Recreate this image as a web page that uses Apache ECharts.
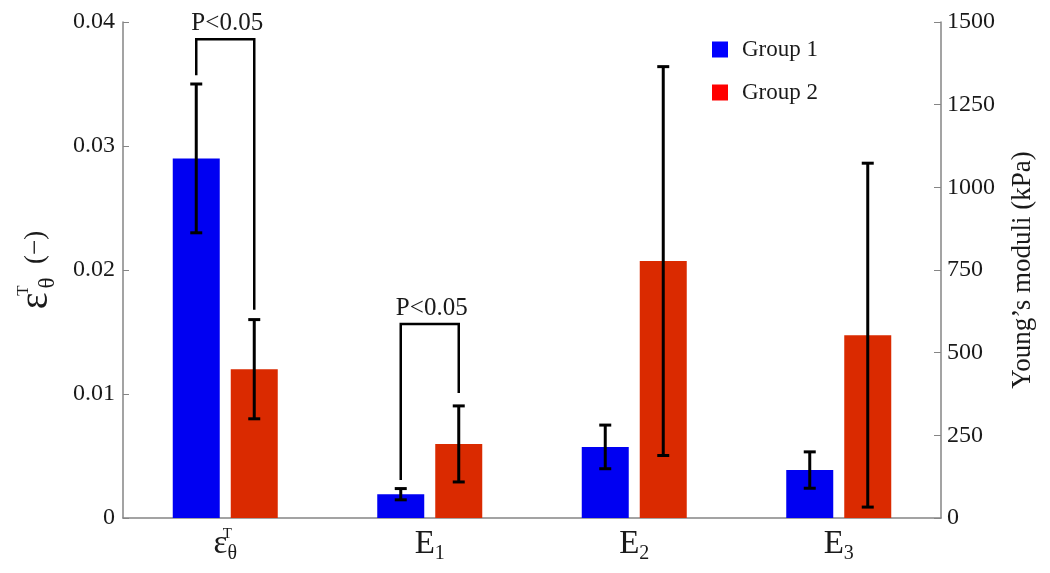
<!DOCTYPE html>
<html><head><meta charset="utf-8">
<script src="https://cdn.jsdelivr.net/npm/echarts@6/dist/echarts.min.js"></script>
<style>html,body{margin:0;padding:0;background:#fff}#c{width:1050px;height:573px}</style>
</head><body><div id="c"></div>
<script>
// ---- data ----
const categoryBase = ['ε', 'E', 'E', 'E'];
const categorySub = ['θ', '1', '2', '3'];
const categorySup = ['T', '', '', ''];
const categories = ['εθT', 'E1', 'E2', 'E3'];

// strain (left axis, first category)
const group1Strain = [0.029];
const group1StrainErr = [0.006];
const group2Strain = [0.012];
const group2StrainErr = [0.004];

// Young's moduli in kPa (right axis, categories E1..E3)
const group1Moduli = [72, 215, 145];
const group1ModuliErr = [17, 66, 55];
const group2Moduli = [224, 777, 553];
const group2ModuliErr = [115, 588, 520];

// significance brackets: [category index, bracket top, left leg end, right leg end]
const sigStrain = [[0, 0.0386, 0.0357, 0.0168]];
const sigModuli = [[1, 587, 115, 378]];
const sigLabel = 'P<0.05';

// ---- style ----
const FONT = '"Liberation Serif", "DejaVu Serif", serif';
const BLUE = '#0000f2';
const RED = '#da2a00';
const AXIS = '#858585';
const TXT = '#1a1a1a';
const BAR_W = 47;
const GAP = 11;
const HALF = (BAR_W + GAP) / 2;

function strainData(vals) { return categories.map((c, i) => i < vals.length ? vals[i] : '-'); }
function moduliData(vals) { return categories.map((c, i) => i >= 1 ? vals[i - 1] : '-'); }
function strainErr(vals, errs) { return vals.map((v, i) => [i, v - errs[i], v + errs[i]]); }
function moduliErr(vals, errs) { return vals.map((v, i) => [i + 1, v - errs[i], v + errs[i]]); }

function errRender(sign) {
  return function (params, api) {
    const x = api.value(0);
    const a = api.coord([x, api.value(1)]);
    const b = api.coord([x, api.value(2)]);
    const cx = a[0] + sign * HALF;
    const st = { stroke: '#000', lineWidth: 3 };
    return { type: 'group', children: [
      { type: 'line', shape: { x1: cx, y1: a[1], x2: cx, y2: b[1] }, style: st },
      { type: 'line', shape: { x1: cx - 6, y1: a[1], x2: cx + 6, y2: a[1] }, style: st },
      { type: 'line', shape: { x1: cx - 6, y1: b[1], x2: cx + 6, y2: b[1] }, style: st }
    ]};
  };
}
function sigRender(params, api) {
  const x = api.value(0);
  const t = api.coord([x, api.value(1)]);
  const l = api.coord([x, api.value(2)]);
  const r = api.coord([x, api.value(3)]);
  const lx = t[0] - HALF, rx = t[0] + HALF;
  return { type: 'group', children: [
    { type: 'polyline', shape: { points: [[lx, l[1]], [lx, t[1]], [rx, t[1]], [rx, r[1]]] },
      style: { stroke: '#000', lineWidth: 2.5, fill: null } },
    { type: 'text', style: { text: sigLabel, x: t[0] + 2, y: t[1] - 3, align: 'center', verticalAlign: 'bottom',
      font: '25px ' + FONT, fill: TXT } }
  ]};
}

const labelRich = {
  e: { fontSize: 33, fontFamily: FONT, color: TXT, lineHeight: 40 },
  sup: { fontSize: 15, fontFamily: FONT, color: TXT, width: 0, verticalAlign: 'top', lineHeight: 40, padding: [3, 0, 0, 0] },
  sub: { fontSize: 20, fontFamily: FONT, color: TXT, verticalAlign: 'bottom', lineHeight: 40 }
};
const nameRich = {
  e: { fontSize: 40, fontFamily: FONT, color: TXT, lineHeight: 46 },
  sup: { fontSize: 17, fontFamily: FONT, color: TXT, width: 0, verticalAlign: 'top', lineHeight: 46, padding: [2, 0, 0, 2] },
  sub: { fontSize: 23, fontFamily: FONT, color: TXT, verticalAlign: 'bottom', lineHeight: 46, padding: [0, 0, 0, 2] },
  n: { fontSize: 27, fontFamily: FONT, color: TXT, lineHeight: 46 }
};

const chart = echarts.init(document.getElementById('c'));
chart.setOption({
  animation: false,
  backgroundColor: '#fff',
  grid: { left: 123, right: 109, top: 22, bottom: 55 },
  legend: {
    orient: 'vertical', left: 712, top: 38, itemWidth: 16, itemHeight: 16, itemGap: 20, padding: 0,
    icon: 'rect',
    textStyle: { fontFamily: FONT, fontSize: 23, color: TXT, padding: [0, 0, 0, 9] },
    data: [{ name: 'Group 1', itemStyle: { color: '#0000ff' } }, { name: 'Group 2', itemStyle: { color: '#ff0000' } }]
  },
  xAxis: [{
    type: 'category', data: categories, position: 'bottom',
    axisLine: { lineStyle: { color: AXIS, width: 1.5 } },
    axisTick: { alignWithLabel: true, inside: true, length: 5, lineStyle: { color: AXIS } },
    axisLabel: {
      margin: 6, interval: 0,
      formatter: (v, i) => '{e|' + categoryBase[i] + '}' + (categorySup[i] ? '{sup|' + categorySup[i] + '}' : '') + '{sub|' + categorySub[i] + '}',
      rich: labelRich
    }
  }, {
    type: 'category', data: categories, position: 'top', show: false
  }],
  yAxis: [{
    type: 'value', position: 'left', min: 0, max: 0.04, interval: 0.01,
    splitLine: { show: false },
    axisLine: { show: true, lineStyle: { color: AXIS, width: 1.5 } },
    axisTick: { show: true, inside: true, length: 6, lineStyle: { color: AXIS } },
    axisLabel: { fontFamily: FONT, fontSize: 24, color: TXT, margin: 8, formatter: v => v === 0 ? '0' : v.toFixed(2) },
    name: '{e|ε}{sup|T}{sub|θ}{n|  (−)}', nameLocation: 'middle', nameRotate: 90, nameGap: 64,
    nameTextStyle: { rich: nameRich }
  }, {
    type: 'value', position: 'right', min: 0, max: 1500, interval: 250,
    splitLine: { show: false },
    axisLine: { show: true, lineStyle: { color: AXIS, width: 1.5 } },
    axisTick: { show: true, inside: true, length: 7, lineStyle: { color: AXIS } },
    axisLabel: { fontFamily: FONT, fontSize: 24, color: TXT, margin: 6, formatter: v => String(v) },
    name: 'Young’s moduli (kPa)', nameLocation: 'middle', nameRotate: 90, nameGap: 68,
    nameTextStyle: { fontFamily: FONT, fontSize: 27, color: TXT }
  }],
  series: [
    { name: 'Group 1', type: 'bar', xAxisIndex: 0, yAxisIndex: 0, data: strainData(group1Strain), barWidth: BAR_W, barGap: (GAP / BAR_W * 100) + '%', itemStyle: { color: BLUE } },
    { name: 'Group 2', type: 'bar', xAxisIndex: 0, yAxisIndex: 0, data: strainData(group2Strain), barWidth: BAR_W, barGap: (GAP / BAR_W * 100) + '%', itemStyle: { color: RED } },
    { name: 'Group 1', type: 'bar', xAxisIndex: 1, yAxisIndex: 1, data: moduliData(group1Moduli), barWidth: BAR_W, barGap: (GAP / BAR_W * 100) + '%', itemStyle: { color: BLUE } },
    { name: 'Group 2', type: 'bar', xAxisIndex: 1, yAxisIndex: 1, data: moduliData(group2Moduli), barWidth: BAR_W, barGap: (GAP / BAR_W * 100) + '%', itemStyle: { color: RED } },
    { type: 'custom', xAxisIndex: 0, yAxisIndex: 0, renderItem: errRender(-1), data: strainErr(group1Strain, group1StrainErr), z: 5, clip: false },
    { type: 'custom', xAxisIndex: 0, yAxisIndex: 0, renderItem: errRender(1), data: strainErr(group2Strain, group2StrainErr), z: 5, clip: false },
    { type: 'custom', xAxisIndex: 1, yAxisIndex: 1, renderItem: errRender(-1), data: moduliErr(group1Moduli, group1ModuliErr), z: 5, clip: false },
    { type: 'custom', xAxisIndex: 1, yAxisIndex: 1, renderItem: errRender(1), data: moduliErr(group2Moduli, group2ModuliErr), z: 5, clip: false },
    { type: 'custom', xAxisIndex: 0, yAxisIndex: 0, renderItem: sigRender, data: sigStrain, z: 6, clip: false },
    { type: 'custom', xAxisIndex: 1, yAxisIndex: 1, renderItem: sigRender, data: sigModuli, z: 6, clip: false }
  ]
});
</script></body></html>
